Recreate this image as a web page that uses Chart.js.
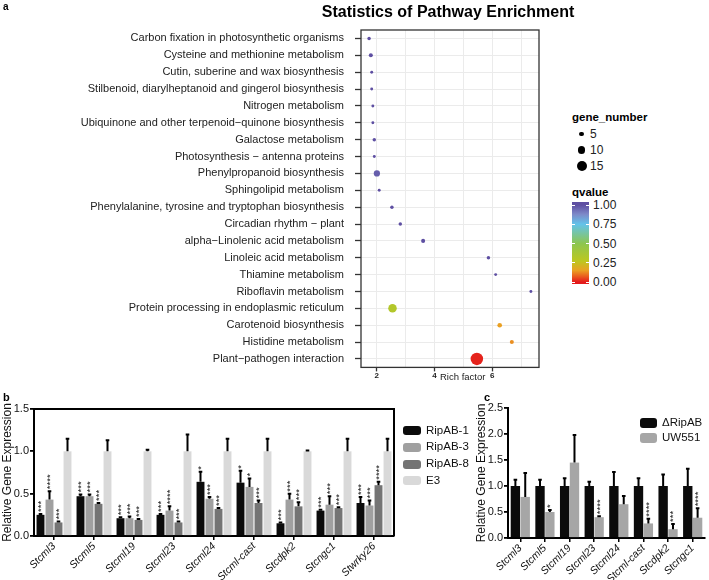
<!DOCTYPE html>
<html><head><meta charset="utf-8">
<script src="https://cdn.jsdelivr.net/npm/chart.js@4.4.1/dist/chart.umd.min.js"></script>
<style>
body{margin:0;background:#fff;font-family:'Liberation Sans',Arial,sans-serif;}
#wrap{position:relative;width:709px;height:580px;overflow:hidden;background:#fff;}
canvas{position:absolute;}
.t{position:absolute;white-space:nowrap;color:#111;line-height:1;}
</style></head><body><div id="wrap">
<canvas id="cA" width="560" height="385" style="left:0;top:0"></canvas>
<canvas id="cB" width="400" height="195" style="left:0;top:385px"></canvas>
<canvas id="cC" width="239" height="195" style="left:470px;top:385px"></canvas>
</div>
<script>
// ---------- Panel a data ----------
const pathways = [
  'Carbon fixation in photosynthetic organisms',
  'Cysteine and methionine metabolism',
  'Cutin, suberine and wax biosynthesis',
  'Stilbenoid, diarylheptanoid and gingerol biosynthesis',
  'Nitrogen metabolism',
  'Ubiquinone and other terpenoid\u2212quinone biosynthesis',
  'Galactose metabolism',
  'Photosynthesis \u2212 antenna proteins',
  'Phenylpropanoid biosynthesis',
  'Sphingolipid metabolism',
  'Phenylalanine, tyrosine and tryptophan biosynthesis',
  'Circadian rhythm \u2212 plant',
  'alpha\u2212Linolenic acid metabolism',
  'Linoleic acid metabolism',
  'Thiamine metabolism',
  'Riboflavin metabolism',
  'Protein processing in endoplasmic reticulum',
  'Carotenoid biosynthesis',
  'Histidine metabolism',
  'Plant\u2212pathogen interaction'
];
const richFactor = [1.74,1.80,1.83,1.83,1.87,1.87,1.92,1.92,2.01,2.09,2.53,2.82,3.61,5.87,6.12,7.34,2.55,6.26,6.68,5.47];
const geneNumber = [3,4,2,2,2,2,3,2,8,2,3,3,4,3,2,2,12,5,4,19];
const qValue = [1,1,1,1,1,1,1,1,0.97,1,1,1,1,1,1,1,0.32,0.15,0.13,0.01];
const sizeBreaks = [5,10,15];
const qBreaks = [1.00,0.75,0.50,0.25,0.00];
const richTicks = [2,3,4,5,6,7];

// ---------- Panel b data ----------
const genesB = ['Stcml3','Stcml5','Stcml19','Stcml23','Stcml24','Stcml-cast','Stcdpk2','Stcngc1','Stwrky26'];
const ripAB1 = [0.25,0.47,0.21,0.25,0.64,0.63,0.15,0.30,0.39];
const ripAB1Err = [0.01,0.02,0.01,0.01,0.12,0.14,0.01,0.01,0.07];
const ripAB1Stars = ['***','***','***','***','*','*','***','***','***'];
const ripAB3 = [0.43,0.47,0.21,0.30,0.44,0.58,0.43,0.37,0.36];
const ripAB3Err = [0.10,0.02,0.02,0.05,0.02,0.10,0.07,0.10,0.06];
const ripAB3Stars = ['****','***','***','****','***','*','***','***','***'];
const ripAB8 = [0.16,0.38,0.19,0.16,0.32,0.39,0.35,0.33,0.60];
const ripAB8Err = [0.01,0.01,0.01,0.01,0.01,0.03,0.05,0.01,0.04];
const ripAB8Stars = ['***','***','***','***','***','***','***','***','****'];
const e3 = [1,1,1,1,1,1,1,1,1];
const e3Err = [0.15,0.13,0.02,0.20,0.15,0.15,0.01,0.15,0.15];
const seriesB = ['RipAB-1','RipAB-3','RipAB-8','E3'];
const colorsB = ['#0b0b0b','#a0a0a0','#747474','#d9d9d9'];

// ---------- Panel c data ----------
const genesC = ['Stcml3','Stcml5','Stcml19','Stcml23','Stcml24','Stcml-cast','Stcdpk2','Stcngc1'];
const deltaRipAB = [1,1,1,1,1,1,1,1];
const deltaRipABErr = [0.12,0.12,0.15,0.08,0.27,0.15,0.22,0.33];
const uw551 = [0.79,0.50,1.45,0.40,0.65,0.28,0.17,0.39];
const uw551Err = [0.46,0.04,0.53,0.02,0.16,0.09,0.10,0.18];
const uw551Stars = ['','*','','****','','****','***','****'];
const seriesC = ['\u0394RipAB','UW551'];
const colorsC = ['#0b0b0b','#a6a6a6'];

// ---------- helpers ----------
const FONT = "'Liberation Sans', Arial, sans-serif";
Chart.defaults.font.family = FONT;
const qStops = [[0,'#E41A1C'],[0.07,'#EA5A1E'],[0.15,'#EAA022'],[0.27,'#BDC71F'],[0.5,'#8DC650'],[0.75,'#63C3EA'],[0.88,'#7D89C8'],[1,'#5E4FA2']];
function hex2rgb(h){return [parseInt(h.substr(1,2),16),parseInt(h.substr(3,2),16),parseInt(h.substr(5,2),16)];}
function qColor(q){
  for(let i=1;i<qStops.length;i++){
    if(q<=qStops[i][0]){
      const [a,ca]=qStops[i-1],[b,cb]=qStops[i];
      const t=(q-a)/(b-a), A=hex2rgb(ca), B=hex2rgb(cb);
      return 'rgb('+A.map((v,k)=>Math.round(v+(B[k]-v)*t)).join(',')+')';
    }
  }
  return qStops[qStops.length-1][1];
}
function sizeOf(n){return 0.28*n+0.9;}
const wrap=document.getElementById('wrap');
function addText(txt,x,y,css){const d=document.createElement('div');d.className='t';d.textContent=txt;d.style.left=x+'px';d.style.top=y+'px';if(css)d.style.cssText+=css;wrap.appendChild(d);return d;}

// ---------- Panel a ----------
const framePlugin = {id:'frameA', afterDraw(chart){const a=chart.chartArea,c=chart.ctx;c.save();c.strokeStyle='#333';c.lineWidth=1.3;c.strokeRect(a.left,a.top,a.right-a.left,a.bottom-a.top);c.restore();}};
new Chart(document.getElementById('cA'),{
  type:'bubble',
  data:{datasets:[{
    data: pathways.map((p,i)=>({x:richFactor[i],y:p,r:sizeOf(geneNumber[i])})),
    backgroundColor: qValue.map(qColor), borderWidth:0, hoverRadius:0
  }]},
  options:{
    responsive:false, animation:false, events:[],
    layout:{padding:{top:30,right:21,left:0,bottom:0}},
    plugins:{legend:{display:false},tooltip:{enabled:false}},
    scales:{
      x:{type:'linear',min:1.46,max:7.62,
        afterBuildTicks:s=>{s.ticks=richTicks.map(v=>({value:v}));},
        ticks:{callback:v=>(v%2===0?String(v):''),font:{size:8,weight:'bold'},color:'#222',padding:0,maxRotation:0,autoSkip:false},
        grid:{color:'#ebebeb',lineWidth:1,tickLength:4,tickColor:c=>(c.tick&&c.tick.value%2===0?'#333':'rgba(0,0,0,0)'),tickWidth:1.3},
        border:{display:false},
        afterFit:s=>{s.height=17;}
      },
      y:{type:'category',labels:pathways,offset:true,
        ticks:{font:{size:11},color:'#222',padding:11,autoSkip:false},
        grid:{color:'#ebebeb',lineWidth:1,tickLength:6,tickColor:'#333',tickWidth:1.3},
        border:{display:false},
        afterFit:s=>{s.width=361;}
      }
    }
  },
  plugins:[framePlugin]
});
addText('Statistics of Pathway Enrichment',448,4,"font-weight:bold;font-size:16px;transform:translateX(-50%);color:#000;");
addText('a',3,2,"font-weight:bold;font-size:10px;color:#000;");
addText('Rich factor',440,372,"font-size:9.5px;color:#222;");
// size legend
addText('gene_number',572,112,"font-weight:bold;font-size:11.5px;color:#000;");
const sizeY=[134,150,166];
sizeBreaks.forEach((n,i)=>{
  const r=sizeOf(n);const d=document.createElement('div');
  d.style.cssText=`position:absolute;left:${581.7-r}px;top:${sizeY[i]-r}px;width:${2*r}px;height:${2*r}px;border-radius:50%;background:#000;`;
  wrap.appendChild(d);
  addText(String(n),590,sizeY[i]-6,"font-size:12px;color:#222;");
});
// colour bar
addText('qvalue',572,187,"font-weight:bold;font-size:11.5px;color:#000;");
const cb=document.createElement('div');
const barTop=202,barBot=284,q1=205,q0=282;
cb.style.cssText=`position:absolute;left:572px;top:${barTop}px;width:17px;height:${barBot-barTop}px;`;
cb.style.background='linear-gradient(to bottom,'+[...qStops].reverse().map(([q,c])=>`${c} ${(((q0-q*(q0-q1))-barTop)/(barBot-barTop)*100).toFixed(1)}%`).join(',')+')';
wrap.appendChild(cb);
qBreaks.forEach(q=>{
  const y=q0-q*(q0-q1);
  addText(q.toFixed(2),593,y-6,"font-size:12px;color:#222;");
  const l=document.createElement('div');l.style.cssText=`position:absolute;left:572px;top:${y-0.5}px;width:3px;height:1px;background:#fff;`;wrap.appendChild(l);
  const r=document.createElement('div');r.style.cssText=`position:absolute;left:586px;top:${y-0.5}px;width:3px;height:1px;background:#fff;`;wrap.appendChild(r);
});

// ---------- error bars + stars ----------
const errPlugin={id:'errbars',afterDatasetsDraw(chart){
  const c=chart.ctx,ys=chart.scales.y;
  chart.data.datasets.forEach((ds,di)=>{
    const meta=chart.getDatasetMeta(di);
    meta.data.forEach((bar,i)=>{
      const v=ds.data[i],e=ds.errors?ds.errors[i]:0;
      const yt=ys.getPixelForValue(v+e);
      c.save();c.strokeStyle='#000';c.lineWidth=2;c.lineCap='butt';
      c.beginPath();c.moveTo(bar.x,bar.y);c.lineTo(bar.x,yt);c.moveTo(bar.x-1.8,yt);c.lineTo(bar.x+1.8,yt);c.stroke();
      if(ds.stars&&ds.stars[i]){
        c.translate(bar.x,yt-2);c.rotate(-Math.PI/2);c.fillStyle='#111';c.font='9.5px '+FONT;c.textAlign='left';c.textBaseline='middle';
        c.fillText(ds.stars[i],0,0.8);
      }
      c.restore();
    });
  });
}};
const boxPlugin={id:'boxB',afterDraw(chart){const a=chart.chartArea,c=chart.ctx;c.save();c.strokeStyle='#000';c.lineWidth=2;c.beginPath();c.moveTo(a.left,a.top);c.lineTo(a.right,a.top);c.lineTo(a.right,a.bottom);c.stroke();c.restore();}};

function barScales(ymax,yw,xh,titlePad,titleSize){
  return {
    x:{grid:{display:true,drawOnChartArea:false,offset:false,tickLength:4,color:'#000',lineWidth:1.5},
       border:{color:'#000',width:2},
       ticks:{maxRotation:45,minRotation:45,autoSkip:false,font:{size:10.5,style:'italic'},color:'#111',padding:0},
       afterFit:s=>{s.height=xh;}},
    y:{min:0,max:ymax,
       afterBuildTicks:s=>{const t=[];for(let v=0;v<=ymax+1e-9;v+=0.5)t.push({value:+v.toFixed(1)});s.ticks=t;},
       ticks:{callback:v=>Number(v).toFixed(1),font:{size:11},color:'#111',padding:1},
       grid:{drawOnChartArea:false,tickLength:4,color:'#000',lineWidth:1.8},
       border:{color:'#000',width:2},
       title:{display:true,text:'Relative Gene Expression',font:{size:titleSize},color:'#111',padding:{top:titlePad,bottom:0}},
       afterFit:s=>{s.width=yw;}}
  };
}

// ---------- Panel b ----------
new Chart(document.getElementById('cB'),{
  type:'bar',
  data:{labels:genesB,datasets:[
    {label:seriesB[0],data:ripAB1,errors:ripAB1Err,stars:ripAB1Stars,backgroundColor:colorsB[0]},
    {label:seriesB[1],data:ripAB3,errors:ripAB3Err,stars:ripAB3Stars,backgroundColor:colorsB[1]},
    {label:seriesB[2],data:ripAB8,errors:ripAB8Err,stars:ripAB8Stars,backgroundColor:colorsB[2]},
    {label:seriesB[3],data:e3,errors:e3Err,backgroundColor:colorsB[3]}
  ]},
  options:{responsive:false,animation:false,events:[],
    datasets:{bar:{categoryPercentage:0.9,barPercentage:0.88}},
    layout:{padding:{top:24,right:6,left:0,bottom:0}},
    plugins:{legend:{display:false},tooltip:{enabled:false}},
    scales:barScales(1.5,34,44,0,12)
  },
  plugins:[errPlugin,boxPlugin]
});
addText('b',3,392,"font-weight:bold;font-size:11px;color:#000;");
const legBY=[430.7,447,464,480.7];
seriesB.forEach((s,i)=>{
  const sw=document.createElement('div');
  sw.style.cssText=`position:absolute;left:403px;top:${legBY[i]-4.5}px;width:18px;height:9px;border-radius:3px;background:${colorsB[i]};`;
  wrap.appendChild(sw);
  addText(s,426,legBY[i]-6,"font-size:11.5px;color:#111;");
});

// ---------- Panel c ----------
new Chart(document.getElementById('cC'),{
  type:'bar',
  data:{labels:genesC,datasets:[
    {label:seriesC[0],data:deltaRipAB,errors:deltaRipABErr,backgroundColor:colorsC[0]},
    {label:seriesC[1],data:uw551,errors:uw551Err,stars:uw551Stars,backgroundColor:colorsC[1]}
  ]},
  options:{responsive:false,animation:false,events:[],
    datasets:{bar:{categoryPercentage:0.8,barPercentage:0.95}},
    layout:{padding:{top:23,right:4,left:0,bottom:0}},
    plugins:{legend:{display:false},tooltip:{enabled:false}},
    scales:barScales(2.5,38,42,4,12)
  },
  plugins:[errPlugin]
});
addText('c',484,392,"font-weight:bold;font-size:11px;color:#000;");
const legCY=[423.3,438.3];
seriesC.forEach((s,i)=>{
  const sw=document.createElement('div');
  sw.style.cssText=`position:absolute;left:640px;top:${legCY[i]-5}px;width:17px;height:10px;border-radius:3px;background:${colorsC[i]};`;
  wrap.appendChild(sw);
  addText(s,662,legCY[i]-6,"font-size:11.5px;color:#111;");
});
</script></body></html>
